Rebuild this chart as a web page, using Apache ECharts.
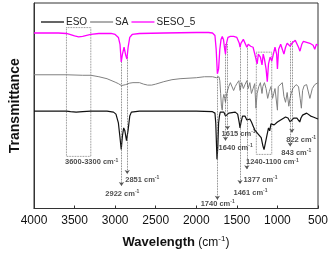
<!DOCTYPE html>
<html>
<head>
<meta charset="utf-8">
<script src="https://cdn.jsdelivr.net/npm/echarts@6/dist/echarts.min.js"></script>
<style>
  html, body { margin: 0; padding: 0; background: #fff; }
  #main { width: 333px; height: 254px; }
</style>
</head>
<body>
<div id="main"></div>
<script>
// wavenumber (cm-1) and stacked transmittance (arbitrary units, offset per curve)
var esoWn = [4000,3600,3550,3480,3400,3300,3100,3020,2990,2960,2940,2925,2910,2895,2880,2860,2851,2840,2820,2800,2700,2000,1800,1770,1760,1745,1735,1725,1715,1705,1690,1660,1640,1625,1600,1520,1490,1470,1461,1450,1430,1410,1400,1377,1360,1340,1320,1300,1280,1260,1240,1220,1200,1180,1165,1155,1130,1110,1095,1080,1060,1040,1020,1000,980,940,900,870,850,843,832,822,800,760,740,725,710,690,670,640,620,590,560,530,500];
var esoT  = [99,99,98.5,98,98.5,99,99,98,96,87,72,60,74,82,79,69,67,80,94,98,99,99,98.5,97,87,50,62,87,94,98,99,98,94,96,97,98,96,87,82,87,94,96,94,90,92,91,88,84,80,78,76,77,72,64,60,62,74,82,79,86,86,85,86,88,90,91,93,92,91,88,90,88,92,92,91,88,92,95,96,97,96,94,93,92,91];

var saWn = [4000,3600,3400,3300,3200,3100,3000,2960,2922,2900,2870,2851,2820,2780,2700,2650,2600,2550,2500,2400,2300,2200,2000,1900,1800,1750,1720,1710,1700,1690,1680,1670,1660,1650,1640,1625,1600,1580,1560,1540,1520,1500,1475,1461,1440,1420,1400,1377,1360,1340,1320,1300,1280,1265,1250,1230,1210,1190,1180,1160,1140,1120,1100,1080,1060,1045,1030,1010,1000,990,970,940,920,900,880,860,845,830,810,790,770,740,720,705,690,670,640,620,600,585,570,540,500];
var saT  = [136,136,135.5,135.5,134,132,128.5,127,125,126.5,126,125,127.5,128,128,126.5,125.5,125.5,126.5,129,131,132,133,134,134,133,134,130,117,104,100,112,116,112,108,117,124,128,126,120,124,127,130,120,128,122,126,130,122,128,117,122,127,102,117,124,128,117,124,128,122,112,119,124,112,117,122,124,100,124,126,128,114,108,118,104,112,117,122,124,126,124,112,102,120,125,126,124,112,110,122,126,128];

var sesoWn = [4000,3700,3600,3500,3450,3400,3300,3200,3050,3000,2960,2940,2925,2910,2890,2870,2855,2840,2820,2790,2700,2400,2000,1850,1800,1770,1755,1740,1725,1710,1695,1680,1665,1650,1640,1630,1610,1580,1540,1500,1470,1461,1450,1420,1400,1377,1360,1330,1300,1270,1250,1235,1210,1190,1175,1160,1140,1125,1110,1090,1070,1050,1030,1010,1000,985,960,940,920,900,880,860,843,822,800,780,760,740,722,700,680,640,600,560,540,520,500];
var sesoT  = [178.5,178.5,178,175.5,174.5,175,177,178,178,177,174,167,149,157,164,156,152,164,174,177,178,178.5,179,179,178.5,176,162,137,142,162,172,175,172,162,157,167,174,175,175,174,168,164,168,172,170,164,167,165,164,154,147,157,154,146,157,152,142,129,147,154,150,157,164,157,142,162,167,162,157,164,168,167,165,168,170,171,169,164,160,167,170,169,168,166,162,167,166];

// annotation dotted guides: wavenumber, top, arrow tip
var guideWn  = [2922, 2851, 1740, 1640, 1615, 1461, 1377, 843, 822];
var guideTop = [152, 154, 135, 167, 167, 165, 165, 170, 170];
var guideEnd = [23, 35, 9, 69, 80, 25, 40, 63, 77];

// peak labels: text, centre wavenumber, centre height
var labelText = ['3600-3300', '2851', '2922', '1740', '1640', '1615', '1461', '1377', '1240-1100', '843', '822'];
var labelWn   = [3290, 2666, 2911, 1736, 1515, 1479, 1332, 1209, 1062, 768, 707];
var labelT    = [47, 29, 15, 5, 62, 76, 16, 29, 47, 57, 70];

// dotted boxes: [wnFrom, wnTo, bottom, top]
var boxRanges = [[3600, 3300, 53, 184], [1260, 1070, 55, 159]];

function zip(a, b) {
  return a.map(function (v, i) { return [v, b[i]]; });
}

var myChart = echarts.init(document.getElementById('main'));

var guides = guideWn.map(function (w, i) {
  return [{ coord: [w, guideTop[i]] }, { coord: [w, guideEnd[i]] }];
});
var boxes = boxRanges.map(function (b) {
  return [{ coord: [b[0], b[3]] }, { coord: [b[1], b[2]] }];
});
var labels = labelText.map(function (t, i) {
  return { value: [labelWn[i], labelT[i]], name: t };
});

myChart.setOption({
  animation: false,
  textStyle: { fontFamily: 'Liberation Sans, Arial, sans-serif' },
  grid: {
    left: 32, right: 15, top: 3, bottom: 42,
    show: true, borderColor: '#333', borderWidth: 1
  },
  legend: {
    data: ['ESO', 'SA', 'SESO_5'],
    left: 36, top: 12,
    icon: 'rect',
    itemWidth: 23, itemHeight: 1.3, itemGap: 3,
    textStyle: { fontSize: 10, color: '#222', padding: [0, 0, 0, -3] }
  },
  xAxis: {
    type: 'value',
    min: 500, max: 4000, interval: 500,
    inverse: true,
    name: '{w|Wavelength} {n|(cm}{s|-1}{n|)}',
    nameLocation: 'middle',
    nameGap: 26,
    nameTextStyle: {
      rich: {
        w: { fontSize: 13, fontWeight: 'bold', color: '#111', lineHeight: 16 },
        n: { fontSize: 12, color: '#111', lineHeight: 16 },
        s: { fontSize: 8, color: '#111', verticalAlign: 'top', lineHeight: 10 }
      }
    },
    axisLine: { lineStyle: { color: '#333', width: 1 } },
    axisTick: { inside: true, length: 3, lineStyle: { color: '#333' } },
    axisLabel: {
      fontSize: 12, color: '#111', margin: 6,
      formatter: function (v) { return String(v); }
    },
    splitLine: { show: false }
  },
  yAxis: {
    type: 'value',
    min: 0, max: 209,
    name: 'Transmittance',
    nameLocation: 'middle',
    nameGap: 12,
    nameTextStyle: { fontSize: 14, fontWeight: 'bold', color: '#111' },
    axisLine: { show: true, lineStyle: { color: '#333', width: 1 } },
    axisTick: { show: false },
    axisLabel: { show: false },
    splitLine: { show: false }
  },
  series: [
    {
      name: 'ESO', type: 'line', data: zip(esoWn, esoT),
      symbol: 'none', lineStyle: { color: '#111', width: 1.2 }, itemStyle: { color: '#111' }, z: 4
    },
    {
      name: 'SA', type: 'line', data: zip(saWn, saT),
      symbol: 'none', lineStyle: { color: '#808080', width: 1 }, itemStyle: { color: '#808080' }, z: 3
    },
    {
      name: 'SESO_5', type: 'line', data: zip(sesoWn, sesoT),
      symbol: 'none', lineStyle: { color: '#ff00ff', width: 1.3 }, itemStyle: { color: '#ff00ff' }, z: 5
    },
    {
      name: 'guides', type: 'line', data: [], z: 2,
      markLine: {
        silent: true,
        symbol: ['none', 'arrow'],
        symbolSize: 4,
        label: { show: false },
        lineStyle: { color: '#555', type: 'dotted', width: 0.8 },
        data: guides
      },
      markArea: {
        silent: true,
        itemStyle: { color: 'rgba(0,0,0,0)', borderColor: '#666', borderWidth: 0.8, borderType: 'dotted' },
        data: boxes
      }
    },
    {
      name: 'labels', type: 'scatter', data: labels, symbolSize: 0, z: 6,
      label: {
        show: true, position: 'inside',
        formatter: function (p) { return '{b|' + p.name + ' cm}{s|-1}'; },
        rich: {
          b: { fontSize: 7.5, fontWeight: 'bold', color: '#222', lineHeight: 9 },
          s: { fontSize: 5, fontWeight: 'bold', color: '#222', verticalAlign: 'top', lineHeight: 6 }
        }
      }
    }
  ]
});
</script>
</body>
</html>
